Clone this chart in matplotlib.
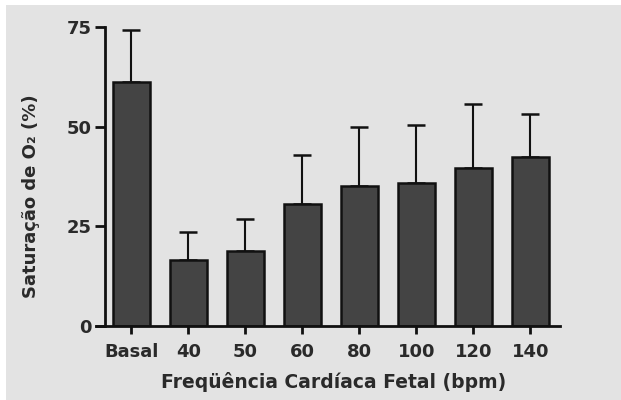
import matplotlib
matplotlib.use("Agg")
import matplotlib.pyplot as plt
from matplotlib.patches import Rectangle

categories = ["Basal", "40", "50", "60", "80", "100", "120", "140"]
means = [61.2, 16.5, 18.9, 30.6, 35.1, 35.9, 39.7, 42.3]
upper = [74.3, 23.7, 26.9, 42.9, 49.8, 50.4, 55.6, 53.3]
errors = [u - m for u, m in zip(upper, means)]
yticks = [0, 25, 50, 75]

W, H = 621, 400
fig = plt.figure(figsize=(W / 100, H / 100), dpi=100)
fig.patch.set_facecolor("white")
fig.patches.append(Rectangle((6 / W, 0), 1, 1 - 5 / H, transform=fig.transFigure,
                             facecolor="#e3e3e3", edgecolor="none", zorder=-10))

ax = fig.add_axes([96 / W, (H - 326) / H, (560 - 96) / W, (326 - 27) / H])
ax.set_facecolor("none")
x = list(range(len(categories)))
ax.bar(x, means, width=0.65, color="#444444", edgecolor="#111111", linewidth=1.8, zorder=2)
ax.errorbar(x, means, yerr=[[0] * len(errors), errors], fmt="none", ecolor="#111111",
            elinewidth=1.5, capsize=6.5, capthick=1.8, zorder=1)

ax.set_xlim(-0.62, 7.52)
ax.set_ylim(0, 75)
for s in ["top", "right"]:
    ax.spines[s].set_visible(False)
ax.spines["left"].set_position(("data", -0.47))
ax.spines["left"].set_linewidth(2)
ax.spines["bottom"].set_linewidth(2)
ax.spines["left"].set_color("#111111")
ax.spines["bottom"].set_color("#111111")

ax.set_yticks(yticks)
ax.set_yticklabels([str(t) for t in yticks])
ax.set_xticks(x)
ax.set_xticklabels(categories)
ax.tick_params(axis="y", direction="out", length=7, width=2, color="#111111",
               labelsize=13, labelcolor="#2a2a2a", pad=2)
ax.tick_params(axis="x", direction="out", length=6, width=2, color="#111111",
               labelsize=13, labelcolor="#2a2a2a", pad=6)
for lbl in ax.get_xticklabels() + ax.get_yticklabels():
    lbl.set_fontweight("bold")

ax.set_xlabel("Freqüência Cardíaca Fetal (bpm)", fontsize=13.5, fontweight="bold",
              color="#2a2a2a")
ax.xaxis.set_label_coords((334 - 96) / 464, -(372 - 326) / 299)
ax.set_ylabel("Saturação de O₂ (%)", fontsize=13, fontweight="bold",
              color="#2a2a2a")
ax.yaxis.set_label_coords((40 - 96) / 464, (326 - 196) / 299)

fig.savefig("out.png", dpi=100)
